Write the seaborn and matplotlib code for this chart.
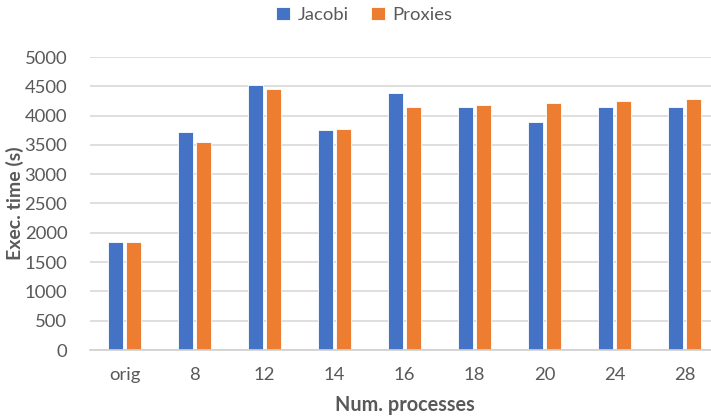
import matplotlib
matplotlib.use("Agg")
import matplotlib.pyplot as plt
import seaborn as sns
import pandas as pd

# Execution times per number of processes
categories = ["orig", "8", "12", "14", "16", "18", "20", "24", "28"]
jacobi = [1850, 3715, 4515, 3760, 4380, 4140, 3885, 4140, 4140]
proxies = [1850, 3545, 4455, 3765, 4150, 4180, 4215, 4250, 4280]
series_names = ["Jacobi", "Proxies"]
yticks = [0, 500, 1000, 1500, 2000, 2500, 3000, 3500, 4000, 4500, 5000]

df = pd.DataFrame({
    "procs": categories * 2,
    "time": jacobi + proxies,
    "method": [series_names[0]] * len(categories) + [series_names[1]] * len(categories),
})

sns.set_theme(style="white")
plt.rcParams["font.family"] = ["Lato", "DejaVu Sans"]

W, H = 711, 419
fig = plt.figure(figsize=(W / 100, H / 100), dpi=100)
ax = fig.add_axes([89.5 / W, (H - 350) / H, 630 / W, 293 / H])

palette = {"Jacobi": "#4472C4", "Proxies": "#ED7D31"}
sns.barplot(data=df, x="procs", y="time", hue="method", order=categories,
            hue_order=series_names, palette=palette, width=0.5, gap=0.15,
            edgecolor="white", linewidth=0.6, saturation=1, ax=ax, legend=True)

text_col = "#595959"
ax.set_xlim(-0.5, len(categories) - 0.5)
ax.set_ylim(0, 5000)
ax.set_yticks(yticks)
ax.set_yticklabels([str(v) for v in yticks])
ax.yaxis.grid(True, color="#D9D9D9", linewidth=1.2)
ax.set_axisbelow(True)
for s in ["top", "right", "left"]:
    ax.spines[s].set_visible(False)
ax.spines["bottom"].set_color("#D0D0D0")
ax.spines["bottom"].set_linewidth(1.2)
ax.tick_params(axis="both", length=0, labelsize=13.3, colors=text_col)
ax.tick_params(axis="y", pad=16)
ax.tick_params(axis="x", pad=12)

ax.set_xlabel("Num. processes", fontsize=14.3, fontweight="bold", color=text_col, labelpad=9)
ax.set_ylabel("Exec. time (s)", fontsize=14, fontweight="bold", color=text_col)
ax.yaxis.set_label_coords((24 - 89.5) / 630, 0.5)

leg = ax.legend(loc="center", bbox_to_anchor=(364 / W, 1 - 15 / H),
                bbox_transform=fig.transFigure, ncol=2, frameon=False,
                fontsize=13.3, handlelength=0.75, handleheight=0.75,
                handletextpad=0.4, columnspacing=1.2)
for t in leg.get_texts():
    t.set_color(text_col)

fig.savefig("out.png", dpi=100)
